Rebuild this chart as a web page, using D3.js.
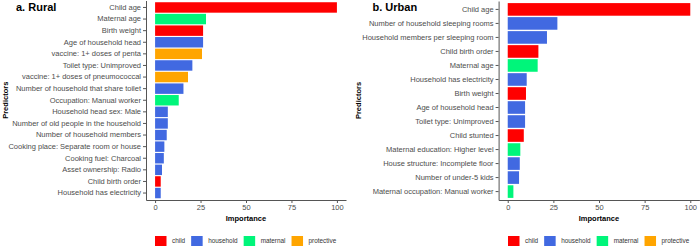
<!DOCTYPE html>
<html>
<head>
<meta charset="utf-8">
<script src="https://cdn.jsdelivr.net/npm/d3@7"></script>
<style>
  body { margin: 0; background: #fff; }
  svg { display: block; font-family: "Liberation Sans", Arial, sans-serif; }
</style>
</head>
<body>
<svg width="700" height="247"></svg>
<script>
// data
let ruralPredictors = ["Child age", "Maternal age", "Birth weight", "Age of household head",
  "vaccine: 1+ doses of penta", "Toilet type: Unimproved", "vaccine: 1+ doses of pneumococcal",
  "Number of household that share toilet", "Occupation: Manual worker", "Household head sex: Male",
  "Number of old people in the household", "Number of household members",
  "Cooking place: Separate room or house", "Cooking fuel: Charcoal", "Asset ownership: Radio",
  "Child birth order", "Household has electricity"];
let ruralValues = [100, 28, 26.4, 26.4, 25.8, 20.5, 18.1, 15.6, 13, 7, 7, 6.4, 5.1, 4.8, 3.8, 3.1, 3.1];
let ruralGroups = ["child", "maternal", "child", "household", "protective", "household", "protective",
  "household", "maternal", "household", "household", "household", "household", "household",
  "household", "child", "household"];

let urbanPredictors = ["Child age", "Number of household sleeping rooms", "Household members per sleeping room",
  "Child birth order", "Maternal age", "Household has electricity", "Birth weight", "Age of household head",
  "Toilet type: Unimproved", "Child stunted", "Maternal education: Higher level",
  "House structure: Incomplete floor", "Number of under-5 kids", "Maternal occupation: Manual worker"];
let urbanValues = [100, 27.2, 21.5, 16.8, 16.4, 10.4, 10, 9.5, 9.5, 8.8, 6.9, 6.6, 6.2, 3.1];
let urbanGroups = ["child", "household", "household", "child", "maternal", "household", "child",
  "household", "household", "child", "maternal", "household", "household", "maternal"];

let groups = ["child", "household", "maternal", "protective"];
let groupColors = ["#FF0000", "#4169E1", "#00F57A", "#FFA500"];
let xTicks = [0, 25, 50, 75, 100];

let color = d3.scaleOrdinal().domain(groups).range(groupColors);
let svg = d3.select('svg');

function panel(opt) {
  let data = opt.names.map((n, i) => ({ name: n, value: opt.values[i], group: opt.groups[i] }));
  let x = d3.scaleLinear().domain([-5, 105]).range([opt.left, opt.right]);
  let y = d3.scaleBand().domain(opt.names).range([opt.top, opt.bottom])
    .paddingInner(0.1).paddingOuter(0.15);
  let g = svg.append('g');

  g.selectAll('rect.bar')
    .data(data)
    .enter()
    .append('rect')
      .attr('class', 'bar')
      .attr('x', x(0))
      .attr('y', d => y(d.name))
      .attr('width', d => x(d.value) - x(0))
      .attr('height', y.bandwidth())
      .style('fill', d => color(d.group));

  // y axis
  let ya = g.append('g')
    .attr('transform', `translate(${opt.left},0)`)
    .call(d3.axisLeft(y).tickSize(3).tickSizeOuter(0).tickPadding(2));
  // x axis
  let xa = g.append('g')
    .attr('transform', `translate(0,${opt.bottom})`)
    .call(d3.axisBottom(x).tickValues(xTicks).tickSize(3).tickSizeOuter(0).tickPadding(2));
  [ya, xa].forEach(a => {
    a.select('.domain').attr('stroke', '#555').attr('stroke-width', 1);
    a.selectAll('.tick line').attr('stroke', '#555');
    a.selectAll('.tick text').attr('fill', '#4D4D4D').style('font-size', '7.5px');
  });

  // titles
  g.append('text')
    .attr('x', opt.titleX).attr('y', 11)
    .style('font-size', '11px').style('font-weight', 'bold')
    .text(opt.title);
  g.append('text')
    .attr('x', (opt.left + opt.right) / 2).attr('y', 221)
    .attr('text-anchor', 'middle')
    .style('font-size', '7.5px').style('font-weight', 'bold')
    .text('Importance');
  g.append('text')
    .attr('transform', `translate(${opt.ylabX},${(opt.top + opt.bottom) / 2}) rotate(-90)`)
    .attr('text-anchor', 'middle')
    .style('font-size', '7.5px').style('font-weight', 'bold')
    .text('Predictors');

  // legend
  let lg = g.append('g').attr('transform', `translate(${opt.legendX},236)`);
  let cx = 0;
  groups.forEach(k => {
    lg.append('rect')
      .attr('x', cx).attr('y', 0)
      .attr('width', 11.5).attr('height', 10)
      .style('fill', color(k));
    let t = lg.append('text')
      .attr('x', cx + 17).attr('y', 7.3)
      .attr('fill', '#333')
      .style('font-size', '6.4px')
      .text(k);
    cx += 17 + t.node().getComputedTextLength() + 6;
  });
}

panel({ names: ruralPredictors, values: ruralValues, groups: ruralGroups,
  left: 146, right: 346, top: 0.5, bottom: 200, title: 'a. Rural', titleX: 16,
  ylabX: 8, legendX: 155 });
panel({ names: urbanPredictors, values: urbanValues, groups: urbanGroups,
  left: 498.6, right: 699.4, top: 1, bottom: 200, title: 'b. Urban', titleX: 372.5,
  ylabX: 361, legendX: 508 });
</script>
</body>
</html>
